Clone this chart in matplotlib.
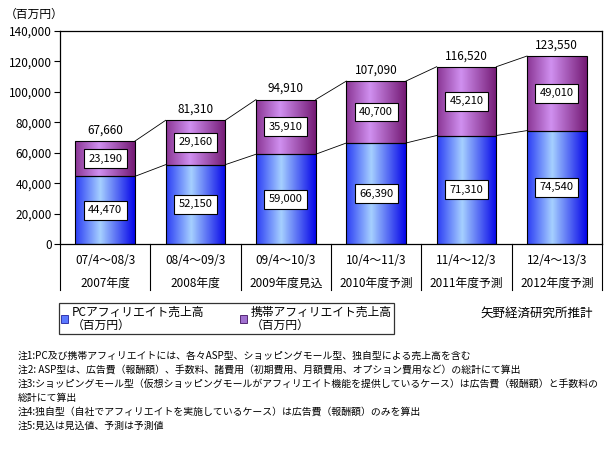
import matplotlib
matplotlib.use('Agg')
import matplotlib.pyplot as plt
import numpy as np
from matplotlib.colors import LinearSegmentedColormap
from matplotlib.patches import Rectangle
from matplotlib.lines import Line2D

matplotlib.rcParams['font.family'] = ['Noto Sans CJK JP', 'DejaVu Sans']
matplotlib.rcParams['font.size'] = 8

# data
periods = ['07/4～08/3', '08/4～09/3', '09/4～10/3', '10/4～11/3', '11/4～12/3', '12/4～13/3']
years = ['2007年度', '2008年度', '2009年度見込', '2010年度予測', '2011年度予測', '2012年度予測']
pc_sales = [44470, 52150, 59000, 66390, 71310, 74540]
mobile_sales = [23190, 29160, 35910, 40700, 45210, 49010]
totals = [67660, 81310, 94910, 107090, 116520, 123550]
series_names = ['PCアフィリエイト売上高\n（百万円）', '携帯アフィリエイト売上高\n（百万円）']
yticks = [0, 20000, 40000, 60000, 80000, 100000, 120000, 140000]
notes = ['注1:PC及び携帯アフィリエイトには、各々ASP型、ショッピングモール型、独自型による売上高を含む',
         '注2: ASP型は、広告費（報酬額）、手数料、諸費用（初期費用、月額費用、オプション費用など）の総計にて算出',
         '注3:ショッピングモール型（仮想ショッピングモールがアフィリエイト機能を提供しているケース）は広告費（報酬額）と手数料の',
         '総計にて算出',
         '注4:独自型（自社でアフィリエイトを実施しているケース）は広告費（報酬額）のみを算出',
         '注5:見込は見込値、予測は予測値']

W, H = 612, 449
fig = plt.figure(figsize=(W/100, H/100), dpi=100)
ax_l, ax_r, ax_t, ax_b = 60, 602, 31, 244
ax = fig.add_axes([ax_l/W, 1-ax_b/H, (ax_r-ax_l)/W, (ax_b-ax_t)/H])

blue_cm = LinearSegmentedColormap.from_list('b', [(0, '#2a3cf5'), (0.42, '#a6d0ff'), (1, '#0505e8')])
purp_cm = LinearSegmentedColormap.from_list('p', [(0, '#8a3594'), (0.4, '#d090f0'), (1, '#741a74')])
grad = np.linspace(0, 1, 128).reshape(1, -1)

x = np.arange(len(periods))
bw = 0.66
bars_pc = ax.bar(x, pc_sales, bw, color='none', edgecolor='black', linewidth=0.8, zorder=3)
bars_mb = ax.bar(x, mobile_sales, bw, bottom=pc_sales, color='none', edgecolor='black', linewidth=0.8, zorder=3)

for bars, cm in [(bars_pc, blue_cm), (bars_mb, purp_cm)]:
    for b in bars:
        x0, y0 = b.get_x(), b.get_y()
        im = ax.imshow(grad, cmap=cm, aspect='auto', extent=[x0, x0+b.get_width(), y0, y0+b.get_height()], zorder=2)
        im.set_clip_path(b)

# connector lines between bars
for i in range(len(x)-1):
    for tops in [pc_sales, totals]:
        ax.plot([x[i]+bw/2, x[i+1]-bw/2], [tops[i], tops[i+1]], color='black', linewidth=0.6, zorder=3)

box = dict(boxstyle='square,pad=0.4', facecolor='white', edgecolor='black', linewidth=0.8)
for i in range(len(x)):
    ax.text(x[i], pc_sales[i]/2, f'{pc_sales[i]:,}', ha='center', va='center', fontsize=8, bbox=box, zorder=5)
    ax.text(x[i], pc_sales[i]+mobile_sales[i]/2, f'{mobile_sales[i]:,}', ha='center', va='center', fontsize=8, bbox=box, zorder=5)
    ax.text(x[i], totals[i]+3000, f'{totals[i]:,}', ha='center', va='bottom', fontsize=8.5, zorder=5)

ax.set_xlim(-0.5, len(x)-0.5)
ax.set_ylim(0, 140000)
ax.set_yticks(yticks)
ax.set_yticklabels([f'{v:,}' for v in yticks], fontsize=8.5)
ax.tick_params(axis='y', length=4, width=0.8, pad=2)
ax.set_xticks([])
for s in ax.spines.values():
    s.set_linewidth(0.9)

# category table under the axis
cw = (ax_r-ax_l)/len(periods)
for k in range(len(periods)+1):
    xx = (ax_l + k*cw)/W
    fig.add_artist(Line2D([xx, xx], [1-ax_b/H, 1-290/H], color='black', linewidth=0.8))
for k in range(len(periods)):
    xc = (ax_l + (k+0.5)*cw)/W
    fig.text(xc, 1-260/H, periods[k], ha='center', va='center', fontsize=8.5)
    fig.text(xc, 1-283/H, years[k], ha='center', va='center', fontsize=8.5)

fig.text(5/W, 1-14/H, '（百万円）', ha='left', va='center', fontsize=8.5)

# legend
handles = [Rectangle((0, 0), 1, 1, facecolor='#5a78ff', edgecolor='#2020a0', linewidth=0.6),
           Rectangle((0, 0), 1, 1, facecolor='#a070d0', edgecolor='#401060', linewidth=0.6)]
leg = fig.legend(handles, series_names, loc='upper left', bbox_to_anchor=(59/W, 1-303/H), ncol=2,
                 fontsize=8.5, frameon=True, fancybox=False, handlelength=0.6, handleheight=0.6,
                 handletextpad=0.3, columnspacing=3.0, borderpad=0.2, labelspacing=0.1, borderaxespad=0)
leg.get_frame().set_edgecolor('black')
leg.get_frame().set_linewidth(0.9)
for t in leg.get_texts():
    t.set_linespacing(1.0)

fig.text(593/W, 1-313/H, '矢野経済研究所推計', ha='right', va='center', fontsize=9)

for i, n in enumerate(notes):
    fig.text(18/W, 1-(356+14*i)/H, n, ha='left', va='center', fontsize=7.1)

fig.savefig('out.png', dpi=100)
